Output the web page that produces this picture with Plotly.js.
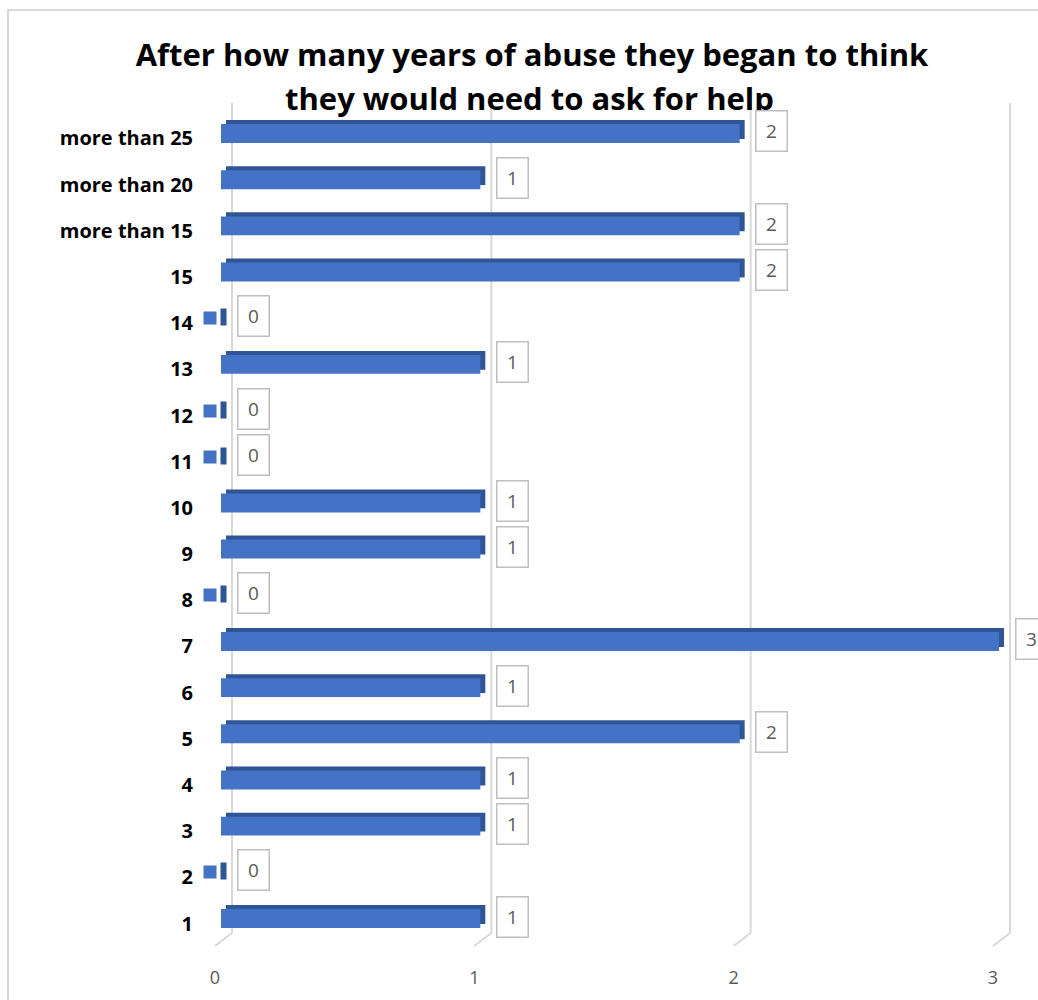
<!DOCTYPE html>
<html>
<head>
<meta charset="utf-8">
<script src="https://cdn.plot.ly/plotly-3.0.1.min.js"></script>
<style>html,body{margin:0;padding:0;background:#fff;}#chart{width:1038px;height:1000px;}</style>
</head>
<body>
<div id="chart"></div>
<script>
const titleLine1 = 'After how many years of abuse they began to think';
const titleLine2 = 'they would need to ask for help';
const categories = ['1','2','3','4','5','6','7','8','9','10','11','12','13','14','15','more than 15','more than 20','more than 25'];
const values = [1,0,1,1,2,1,3,0,1,1,0,0,1,0,2,2,1,2];
const xTicks = [0,1,2,3];
const xTickLabels = ['0','1','2','3'];

const W = 1038, H = 1000;
const px = v => v / W;
const py = v => 1 - v / H;

const FRONT = '#4472C4';
const SIDE = '#2F5597';
const GRID = '#D9D9D9';
const FONT = 'Open Sans, Liberation Sans, sans-serif';

// shared horizontal plot domain (pixels) and scale (pixels per unit)
const DOM_L = 200, DOM_R = 1020, SCALE = 778 / 3;
// each overlaid x axis has its zero at a slightly different pixel (3-D look)
const rangeFor = zeroPx => [(DOM_L - zeroPx) / SCALE, (DOM_R - zeroPx) / SCALE];

const barWidth = 0.41;

const traces = [
  { // depth faces (top and right side)
    type: 'bar', orientation: 'h', x: values, y: categories,
    xaxis: 'x', yaxis: 'y',
    width: barWidth, offset: -barWidth/2 + 0.087,
    marker: { color: SIDE, line: { width: 0 } },
    hoverinfo: 'skip', showlegend: false
  },
  { // front faces
    type: 'bar', orientation: 'h', x: values, y: categories,
    xaxis: 'x2', yaxis: 'y',
    width: barWidth, offset: -barWidth/2,
    marker: { color: FRONT, line: { width: 0 } },
    hoverinfo: 'skip', showlegend: false
  },
  { type: 'scatter', x: [], y: [], xaxis: 'x3', yaxis: 'y', hoverinfo: 'skip', showlegend: false },
  { type: 'scatter', x: [], y: [], xaxis: 'x4', yaxis: 'y', hoverinfo: 'skip', showlegend: false }
];

const annotations = [];
annotations.push({
  xref: 'paper', yref: 'paper', x: px(529), y: py(98), xanchor: 'center', yanchor: 'middle',
  text: '<b>' + titleLine2 + '</b>', showarrow: false,
  font: { family: FONT, size: 31, color: '#000' }
});
categories.forEach((c, i) => {
  annotations.push({
    xref: 'x2', yref: 'y', x: values[i], y: i, xanchor: 'center', yanchor: 'middle',
    xshift: 32, yshift: 2, text: String(values[i]), showarrow: false,
    font: { family: FONT, size: 19, color: '#595959' },
    bordercolor: '#BFBFBF', borderwidth: 1.5, borderpad: 2, width: 26, height: 35, bgcolor: '#fff'
  });
  if (values[i] === 0) {
    annotations.push({
      xref: 'x2', yref: 'y', x: values[i], y: i, xanchor: 'center', yanchor: 'middle',
      xshift: -11, yshift: 0, text: ' ', showarrow: false, font: { size: 6 },
      bgcolor: FRONT, width: 12, height: 12, borderpad: 0
    });
    annotations.push({
      xref: 'x2', yref: 'y', x: values[i], y: i, xanchor: 'center', yanchor: 'middle',
      xshift: 2, yshift: 1, text: ' ', showarrow: false, font: { size: 6 },
      bgcolor: SIDE, width: 5, height: 16, borderpad: 0
    });
  }
});

const shapes = [];
shapes.push({ type: 'rect', xref: 'paper', yref: 'paper', x0: px(8), x1: 1.05, y0: -0.05, y1: py(10),
  line: { color: GRID, width: 2 }, fillcolor: 'rgba(0,0,0,0)', layer: 'below' });
xTicks.forEach(v => {
  // back-wall gridline
  shapes.push({ type: 'line', xref: 'x4', x0: v, x1: v, yref: 'paper', y0: py(933), y1: py(103),
    line: { color: GRID, width: 2 }, layer: 'below' });
  // floor diagonal
  shapes.push({ type: 'line', xref: 'x4', xsizemode: 'pixel', xanchor: v, x0: -17, x1: 0,
    yref: 'paper', y0: py(946), y1: py(933), line: { color: GRID, width: 2 }, layer: 'below' });
});

const hidden = { showgrid: false, zeroline: false, showline: false, showticklabels: false, ticks: '', fixedrange: true };
const dom = [px(DOM_L), px(DOM_R)];

const layout = {
  width: W, height: H,
  margin: { l: 0, r: 0, t: 0, b: 0, pad: 0 },
  paper_bgcolor: '#fff', plot_bgcolor: 'rgba(0,0,0,0)',
  showlegend: false,
  barmode: 'overlay',
  title: {
    text: '<b>' + titleLine1 + '</b>',
    x: px(532), xanchor: 'center', xref: 'paper',
    y: py(55), yanchor: 'middle', yref: 'paper',
    font: { family: FONT, size: 31, color: '#000' }
  },
  xaxis: Object.assign({}, hidden, { domain: dom, range: rangeFor(226), anchor: 'y' }),
  xaxis2: Object.assign({}, hidden, { domain: dom, range: rangeFor(221), overlaying: 'x', anchor: 'y' }),
  xaxis3: Object.assign({}, hidden, {
    domain: dom, range: rangeFor(215), overlaying: 'x', anchor: 'free', position: py(965),
    showticklabels: true, tickmode: 'array', tickvals: xTicks, ticktext: xTickLabels,
    tickfont: { family: FONT, size: 18, color: '#595959' }
  }),
  xaxis4: Object.assign({}, hidden, { domain: dom, range: rangeFor(232), overlaying: 'x', anchor: 'y' }),
  yaxis: {
    type: 'category', categoryorder: 'array', categoryarray: categories,
    domain: [py(941.6), py(110.4)], range: [-0.5, 17.5], anchor: 'x',
    showgrid: false, zeroline: false, showline: false,
    ticks: 'outside', ticklen: 2, tickcolor: 'rgba(0,0,0,0)',
    ticklabelshift: 5,
    tickfont: { family: FONT, size: 20, color: '#000', weight: 'bold' },
    fixedrange: true
  },
  annotations: annotations,
  shapes: shapes
};

Plotly.newPlot('chart', traces, layout, { staticPlot: true, displayModeBar: false });
</script>
</body>
</html>
